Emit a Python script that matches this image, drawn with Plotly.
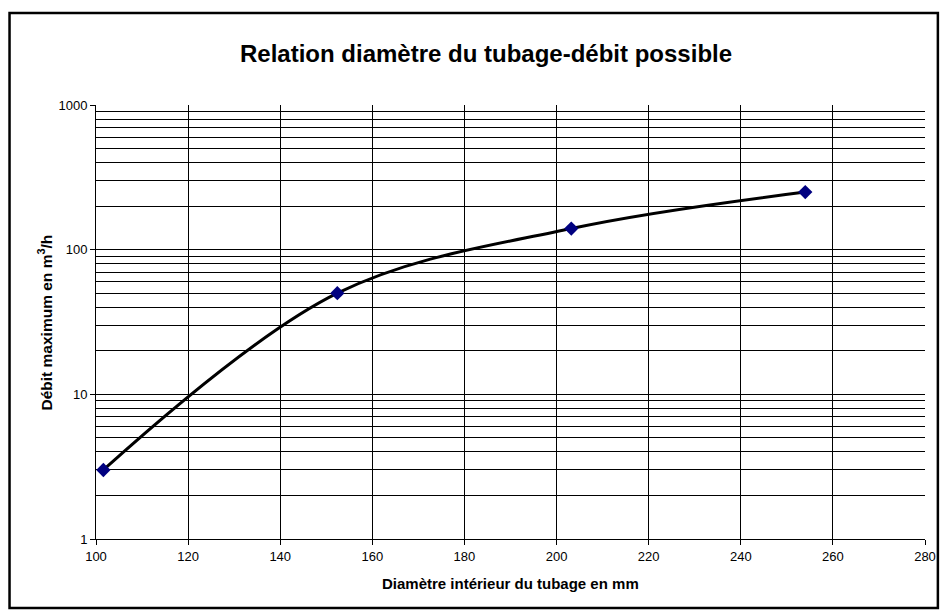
import plotly.graph_objects as go

# Data
diametre_mm = [101.6, 152.4, 203.2, 254.0]
debit_m3h = [3, 50, 140, 250]
x_ticks = [100, 120, 140, 160, 180, 200, 220, 240, 260, 280]
y_ticks = [1, 10, 100, 1000]
y_minor = [m * d for d in [1, 10, 100] for m in range(2, 10)]

# The page adds an 8px body margin; size the figure to fit the 948x610 window.
OFF = 8
W, H = 948 - OFF, 610 - OFF
L, R, T, B = 96 - OFF, 15, 105 - OFF, 71
PW, PH = W - L - R, H - T - B


def px(x_page):
    return (x_page - OFF - L) / PW


def py(y_page):
    return (H - B - (y_page - OFF)) / PH


fig = go.Figure()
fig.add_trace(go.Scatter(
    x=diametre_mm, y=debit_m3h,
    mode="lines+markers",
    line=dict(color="black", width=3, shape="spline", smoothing=1.0),
    marker=dict(symbol="diamond", size=11, color="#000080"),
    showlegend=False,
))

font = "Liberation Sans, Arial, sans-serif"
fig.update_layout(
    width=W, height=H,
    margin=dict(l=L, r=R, t=T, b=B),
    paper_bgcolor="white", plot_bgcolor="white",
    font=dict(family=font, color="black", size=13),
    xaxis=dict(
        range=[100, 280], tickvals=x_ticks, ticktext=[str(v) for v in x_ticks],
        showgrid=True, gridcolor="black", gridwidth=1,
        showline=True, linecolor="black", linewidth=1,
        ticks="outside", ticklen=5, tickcolor="black",
        tickfont=dict(size=13, color="black"), zeroline=False,
    ),
    yaxis=dict(
        type="log", range=[0, 3], tickvals=y_ticks, ticktext=[str(v) for v in y_ticks],
        showgrid=True, gridcolor="black", gridwidth=1,
        showline=True, linecolor="black", linewidth=1,
        ticks="outside", ticklen=5, tickcolor="black",
        tickfont=dict(size=13, color="black"), zeroline=False,
        minor=dict(tickvals=y_minor, showgrid=True, gridcolor="black", gridwidth=1, ticks=""),
    ),
    annotations=[
        dict(text="<b>Relation diamètre du tubage-débit possible</b>",
             xref="paper", yref="paper", x=px(490), y=py(53),
             xanchor="center", yanchor="middle", showarrow=False,
             font=dict(size=24, family=font, color="black")),
        dict(text="<b>Diamètre intérieur du tubage en mm</b>",
             xref="paper", yref="paper", x=0.5, y=py(583),
             xanchor="center", yanchor="middle", showarrow=False,
             font=dict(size=15, family=font, color="black")),
        dict(text="<b>Débit maximum en m<sup>3</sup>/h</b>",
             xref="paper", yref="paper", x=px(45), y=0.5,
             xanchor="center", yanchor="middle", textangle=-90, showarrow=False,
             font=dict(size=15.5, family=font, color="black")),
    ],
    shapes=[
        dict(type="rect", xref="paper", yref="paper",
             x0=px(8.7), x1=px(946), y0=py(608), y1=py(13),
             line=dict(color="black", width=2.5), layer="above"),
    ],
)

fig.write_html("out.html", config={"displayModeBar": False})
